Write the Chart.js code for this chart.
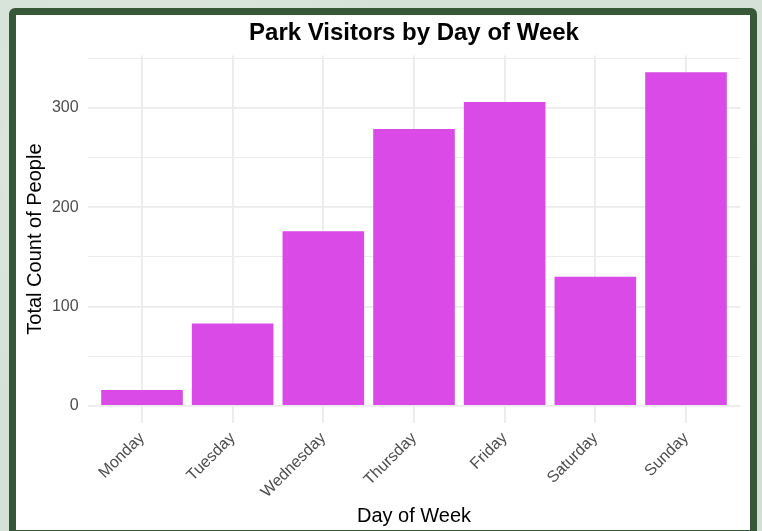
<!DOCTYPE html>
<html>
<head>
<meta charset="utf-8">
<script src="https://cdn.jsdelivr.net/npm/chart.js@4.4.0/dist/chart.umd.min.js"></script>
<style>
  html, body { margin: 0; padding: 0; }
  body {
    width: 762px; height: 531px; overflow: hidden; position: relative;
    background-color: #d5e1d7;
    background-image:
      radial-gradient(circle at 20% 30%, rgba(255,255,255,0.25), rgba(255,255,255,0) 40%),
      radial-gradient(circle at 80% 70%, rgba(190,205,192,0.35), rgba(190,205,192,0) 45%);
  }
  #frame {
    position: absolute; left: 9px; top: 8px; width: 748px; height: 529px;
    box-sizing: border-box; border: 7px solid #375836; border-radius: 6px;
    background: #fff;
  }
  #chart { position: absolute; left: 0; top: 0; }
</style>
</head>
<body>
<div id="frame"></div>
<canvas id="chart" width="762" height="531"></canvas>
<script>
// ===== DADOS =====
const days = ['Monday', 'Tuesday', 'Wednesday', 'Thursday', 'Friday', 'Saturday', 'Sunday'];
const visitors = [16, 83, 176, 279, 306, 130, 336];
const yTicks = [0, 50, 100, 150, 200, 250, 300, 350];
const yTickLabels = ['0', '', '100', '', '200', '', '300', ''];

const FONT = "'Liberation Sans', Arial, Helvetica, sans-serif";
const GRID = '#ebebeb';

// expansão estilo ggplot: 5% no y, 0.6 unidade no x discreto
const yMax = Math.max(...visitors);
const yPad = yMax * 0.05;

const ctx = document.getElementById('chart').getContext('2d');
new Chart(ctx, {
  type: 'bar',
  data: {
    datasets: [{
      data: visitors.map((v, i) => ({ x: i, y: v })),
      backgroundColor: '#d94ae6',
      borderWidth: 0,
      categoryPercentage: 1,
      barPercentage: 0.9
    }]
  },
  options: {
    responsive: false,
    animation: false,
    layout: { padding: { left: 0, right: 21.6, top: 0, bottom: 0 } },
    plugins: {
      legend: { display: false },
      tooltip: { enabled: false },
      title: {
        display: true,
        text: 'Park Visitors by Day of Week',
        fullSize: false,
        color: '#000',
        font: { family: FONT, size: 24, weight: 'bold' },
        padding: { top: 19.3, bottom: 7.5 }
      }
    },
    scales: {
      x: {
        type: 'linear',
        min: -0.6,
        max: days.length - 1 + 0.6,
        offset: false,
        afterBuildTicks: s => { s.ticks = days.map((d, i) => ({ value: i })); },
        afterFit: s => { s.height = 108.4; },
        ticks: {
          autoSkip: false,
          minRotation: 45,
          maxRotation: 45,
          padding: 6,
          color: '#4d4d4d',
          font: { family: FONT, size: 16 },
          callback: v => days[v]
        },
        grid: { offset: false, color: GRID, lineWidth: 1.8, drawTicks: false },
        border: { display: false },
        title: {
          display: true,
          text: 'Day of Week',
          color: '#000',
          font: { family: FONT, size: 20 },
          padding: { top: 0, bottom: 3 }
        }
      },
      y: {
        min: -yPad,
        max: yMax + yPad,
        afterBuildTicks: s => { s.ticks = yTicks.map(v => ({ value: v })); },
        afterFit: s => { s.width = 87.6; },
        ticks: {
          padding: 9,
          color: '#4d4d4d',
          font: { family: FONT, size: 16 },
          callback: v => yTickLabels[yTicks.indexOf(v)]
        },
        grid: {
          color: GRID,
          lineWidth: c => (c.tick && c.tick.value % 100 === 0 ? 1.8 : 1),
          drawTicks: false
        },
        border: { display: false },
        title: {
          display: true,
          text: 'Total Count of People',
          color: '#000',
          font: { family: FONT, size: 20 },
          padding: { top: 23.5, bottom: 0 }
        }
      }
    }
  }
});
</script>
</body>
</html>
